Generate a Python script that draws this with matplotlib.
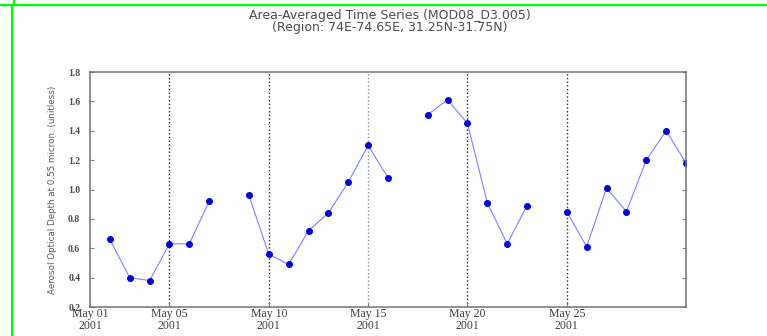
import datetime as dt
import numpy as np
import matplotlib
matplotlib.use("Agg")
import matplotlib.pyplot as plt
from matplotlib.lines import Line2D

# daily values, May 2001 (nan = no data)
days = list(range(1, 32))
aod = [np.nan, 0.66, 0.40, 0.38, 0.63, 0.63, 0.92, np.nan, 0.96, 0.56,
       0.49, 0.72, 0.84, 1.05, 1.30, 1.08, np.nan, 1.51, 1.61, 1.45,
       0.91, 0.63, 0.89, np.nan, 0.85, 0.61, 1.01, 0.85, 1.20, 1.40, 1.18]
tick_days = [1, 5, 10, 15, 20, 25]
tick_labels = ["May 01\n2001", "May 05\n2001", "May 10\n2001",
               "May 15\n2001", "May 20\n2001", "May 25\n2001"]
yticks = [0.2, 0.4, 0.6, 0.8, 1.0, 1.2, 1.4, 1.6, 1.8]

dates = [dt.datetime(2001, 5, d) for d in days]
tdates = [dt.datetime(2001, 5, d) for d in tick_days]

fig = plt.figure(figsize=(7.67, 3.36), dpi=100)
ax = fig.add_axes([0.1173, 0.0863, 0.7771, 0.6994])

ax.plot(dates, aod, color="#8080ff", lw=0.8, marker="o", ms=4,
        mfc="#0000e0", mec="#0000e0")

ax.set_xlim(dt.datetime(2001, 5, 1), dt.datetime(2001, 5, 31))
ax.set_ylim(0.2, 1.8)
ax.set_xticks(tdates)
ax.set_xticklabels(tick_labels, family="Liberation Serif", fontsize=8.5,
                   color="0.25", linespacing=1.0)
ax.set_yticks(yticks)
ax.set_yticklabels(["%.1f" % v for v in yticks], family="Liberation Serif",
                   fontsize=7, color="0.3", fontweight="bold")
ax.tick_params(axis="y", direction="in", length=3, right=True, color="0.5", pad=7)
ax.tick_params(axis="x", direction="in", length=3, color="0.5", pad=1)

# dotted vertical lines at date ticks
for d in tdates[1:]:
    c = "0.55" if d.day == 15 else "0.15"
    ax.axvline(d, color=c, ls=":", lw=1.0, zorder=0)

for s in ax.spines.values():
    s.set_color("0.45")
    s.set_linewidth(1.1)

ax.set_ylabel("Aerosol Optical Depth at 0.55 micron  (unitless)",
              fontsize=6.3, color="0.35", labelpad=8)

fig.text(0.508, 0.972, "Area-Averaged Time Series (MOD08_D3.005)\n"
         "(Region: 74E-74.65E, 31.25N-31.75N)",
         ha="center", va="top", fontsize=9, color="0.3", linespacing=0.9)

# green frame lines
g = "#00ff00"
fig.add_artist(Line2D([0, 1], [1 - 5 / 336] * 2, color=g, lw=1.6, transform=fig.transFigure))
fig.add_artist(Line2D([12 / 767] * 2, [0, 1 - 5 / 336], color=g, lw=1.6, transform=fig.transFigure))
fig.add_artist(Line2D([14 / 767] * 2, [1 - 4 / 336, 1], color=g, lw=1.6, transform=fig.transFigure))

fig.savefig("out.png", dpi=100)
